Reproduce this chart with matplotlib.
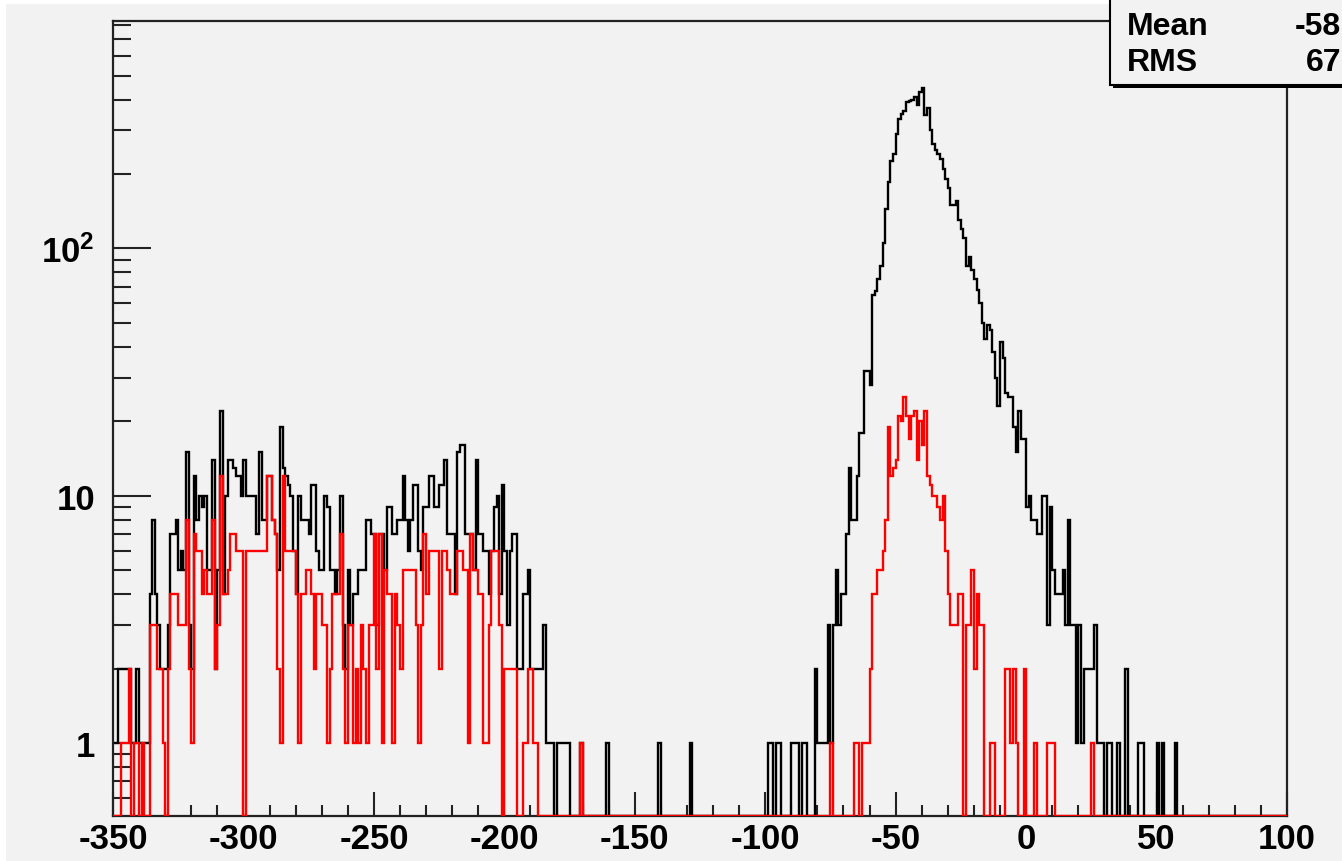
import numpy as np
import matplotlib
matplotlib.use("Agg")
import matplotlib.pyplot as plt
from matplotlib.patches import Rectangle
from matplotlib.transforms import Affine2D
from matplotlib.ticker import FixedLocator, MultipleLocator

plt.rcParams['font.family'] = ['Liberation Sans', 'DejaVu Sans']
plt.rcParams['font.weight'] = 'bold'
plt.rcParams['mathtext.fontset'] = 'custom'
plt.rcParams['mathtext.rm'] = 'Liberation Sans:bold'
plt.rcParams['mathtext.bf'] = 'Liberation Sans:bold'
plt.rcParams['mathtext.it'] = 'Liberation Sans:bold'

# ---- histogram binning: 1-unit bins from -350 to 100 ----
x_min, x_max = -350, 100
bin_edges = np.arange(x_min, x_max + 1, 1)

# all entries (black), one row = 10 bins
black_counts = [
    1, 1, 2, 2, 2, 2, 2, 1, 1, 2,
    1, 1, 1, 1, 4, 8, 4, 3, 2, 2,
    2, 3, 7, 7, 8, 5, 6, 5, 15, 3,
    2, 12, 8, 10, 9, 10, 5, 5, 14, 2,
    5, 22, 4, 10, 14, 14, 13, 12, 12, 10,
    14, 10, 10, 10, 10, 7, 15, 8, 8, 12,
    12, 8, 7, 5, 19, 13, 12, 11, 10, 6,
    4, 10, 8, 8, 8, 7, 11, 11, 6, 5,
    5, 10, 9, 5, 5, 4, 5, 10, 3, 2,
    5, 3, 4, 4, 5, 5, 5, 8, 8, 7,
    7, 3, 7, 7, 5, 9, 9, 7, 7, 8,
    8, 12, 8, 6, 8, 11, 11, 6, 5, 9,
    9, 12, 12, 9, 9, 11, 11, 14, 7, 7,
    7, 4, 15, 16, 16, 7, 7, 7, 5, 14,
    7, 7, 6, 6, 4, 6, 9, 10, 4, 11,
    6, 3, 6, 7, 7, 2, 2, 4, 4, 5,
    2, 2, 2, 2, 2, 3, 1, 1, 1, 0,
    1, 1, 1, 1, 1, 0, 0, 0, 0, 1,
    0, 0, 0, 0, 0, 0, 0, 0, 0, 1,
    0, 0, 0, 0, 0, 0, 0, 0, 0, 0,
    0, 0, 0, 0, 0, 0, 0, 0, 0, 1,
    0, 0, 0, 0, 0, 0, 0, 0, 0, 0,
    0, 1, 0, 0, 0, 0, 0, 0, 0, 0,
    0, 0, 0, 0, 0, 0, 0, 0, 0, 0,
    0, 0, 0, 0, 0, 0, 0, 0, 0, 0,
    0, 1, 1, 0, 1, 1, 0, 0, 0, 0,
    1, 1, 1, 0, 1, 1, 0, 0, 0, 2,
    1, 1, 1, 1, 3, 1, 3, 5, 3, 4,
    4, 7, 13, 8, 8, 12, 18, 18, 32, 32,
    28, 65, 67, 75, 85, 105, 144, 185, 225, 240,
    290, 335, 350, 360, 390, 395, 400, 410, 380, 430,
    445, 345, 370, 300, 265, 250, 240, 230, 210, 190,
    175, 150, 150, 155, 130, 120, 110, 85, 92, 82,
    75, 68, 60, 50, 43, 49, 47, 38, 30, 23,
    42, 36, 26, 25, 25, 19, 15, 22, 17, 17,
    9, 10, 8, 8, 7, 7, 10, 10, 3, 9,
    5, 4, 4, 4, 5, 3, 8, 3, 3, 1,
    3, 1, 2, 2, 2, 2, 3, 1, 1, 1,
    0, 1, 1, 0, 0, 1, 0, 0, 2, 0,
    0, 0, 0, 1, 1, 0, 0, 0, 0, 0,
    1, 0, 1, 0, 0, 0, 0, 1, 0, 0,
    0, 0, 0, 0, 0, 0, 0, 0, 0, 0,
    0, 0, 0, 0, 0, 0, 0, 0, 0, 0,
    0, 0, 0, 0, 0, 0, 0, 0, 0, 0,
    0, 0, 0, 0, 0, 0, 0, 0, 0, 0,
]

# selected entries (red), same binning
red_counts = [
    0, 0, 0, 1, 1, 1, 2, 0, 1, 1,
    0, 1, 0, 0, 3, 3, 3, 2, 2, 1,
    0, 2, 4, 4, 4, 3, 3, 3, 8, 2,
    1, 7, 6, 6, 4, 5, 4, 4, 8, 2,
    3, 12, 4, 4, 5, 7, 7, 6, 6, 6,
    0, 6, 6, 6, 6, 6, 6, 6, 6, 12,
    12, 8, 7, 2, 1, 12, 6, 6, 6, 6,
    4, 1, 4, 4, 5, 5, 4, 2, 4, 4,
    3, 3, 1, 2, 4, 4, 4, 7, 2, 1,
    3, 3, 1, 2, 1, 3, 2, 1, 3, 3,
    7, 2, 7, 1, 5, 4, 4, 1, 4, 3,
    2, 5, 5, 5, 5, 5, 3, 1, 3, 7,
    4, 6, 6, 6, 6, 2, 6, 6, 5, 4,
    4, 4, 6, 6, 5, 5, 1, 7, 5, 5,
    4, 4, 1, 1, 3, 6, 6, 6, 3, 0,
    2, 2, 2, 2, 2, 0, 0, 1, 1, 2,
    2, 1, 1, 0, 0, 0, 0, 0, 0, 0,
    0, 0, 0, 0, 0, 0, 0, 0, 0, 1,
    0, 0, 0, 0, 0, 0, 0, 0, 0, 0,
    0, 0, 0, 0, 0, 0, 0, 0, 0, 0,
    0, 0, 0, 0, 0, 0, 0, 0, 0, 0,
    0, 0, 0, 0, 0, 0, 0, 0, 0, 0,
    0, 0, 0, 0, 0, 0, 0, 0, 0, 0,
    0, 0, 0, 0, 0, 0, 0, 0, 0, 0,
    0, 0, 0, 0, 0, 0, 0, 0, 0, 0,
    0, 0, 0, 0, 0, 0, 0, 0, 0, 0,
    0, 0, 0, 0, 0, 0, 0, 0, 0, 0,
    0, 0, 0, 0, 0, 1, 0, 0, 0, 0,
    0, 0, 0, 0, 1, 1, 0, 1, 1, 1,
    2, 4, 4, 5, 5, 6, 8, 19, 12, 13,
    14, 21, 20, 25, 21, 17, 21, 22, 14, 20,
    16, 22, 12, 11, 10, 10, 9, 8, 10, 6,
    4, 3, 3, 3, 4, 4, 0, 3, 3, 5,
    2, 4, 3, 3, 0, 0, 1, 1, 0, 0,
    0, 0, 2, 2, 1, 2, 1, 0, 0, 2,
    0, 0, 0, 1, 0, 0, 0, 0, 1, 1,
    1, 0, 0, 0, 0, 0, 0, 0, 0, 0,
    0, 0, 0, 0, 0, 1, 0, 0, 0, 0,
    0, 0, 0, 0, 0, 0, 0, 0, 0, 0,
    0, 0, 0, 0, 0, 0, 0, 0, 0, 0,
    0, 0, 0, 0, 0, 0, 0, 0, 0, 0,
    0, 0, 0, 0, 0, 0, 0, 0, 0, 0,
    0, 0, 0, 0, 0, 0, 0, 0, 0, 0,
    0, 0, 0, 0, 0, 0, 0, 0, 0, 0,
    0, 0, 0, 0, 0, 0, 0, 0, 0, 0,
]

x_ticks = [-350, -300, -250, -200, -150, -100, -50, 0, 50, 100]
x_tick_labels = [str(t) for t in x_ticks]
y_ticks = [1, 10, 100]
y_tick_labels = ['1', '10', r'$\mathbf{10^{2}}$']
stats_names = ['Mean', 'RMS']
stats_values = ['-58', '67']

# ---- figure ----
W, H = 1342, 862
fig = plt.figure(figsize=(W / 100, H / 100), dpi=100, facecolor='white')
pix = Affine2D().scale(1.0 / W, 1.0 / H) + fig.transFigure

# grey canvas with thin white border
fig.add_artist(Rectangle((6, 0), W, H - 5, transform=pix,
                         facecolor='#f2f2f2', edgecolor='none', zorder=-5))

ax = fig.add_axes([113 / W, 1 - 817 / H, (1287 - 113) / W, (817 - 22) / H])
ax.set_facecolor('#f2f2f2')
ax.set_yscale('log')
ax.set_xlim(x_min, x_max)
ax.set_ylim(0.507, 831)

floor = ax.get_ylim()[0]


def drawn(counts):
    c = np.asarray(counts, dtype=float)
    return np.where(c > 0, c, floor)


ax.stairs(drawn(black_counts), bin_edges, color='black', lw=1.7,
          baseline=None, zorder=2)
ax.stairs(drawn(red_counts), bin_edges, color='#ff0000', lw=1.7,
          baseline=None, zorder=3)

# ticks
ax.xaxis.set_major_locator(FixedLocator(x_ticks))
ax.set_xticklabels(x_tick_labels)
ax.xaxis.set_minor_locator(MultipleLocator(10))
ax.yaxis.set_major_locator(FixedLocator(y_ticks))
ax.set_yticklabels(y_tick_labels)
minor_y = [m * d for d in (0.1, 1, 10, 100) for m in range(2, 10)]
ax.yaxis.set_minor_locator(FixedLocator(minor_y))
ax.yaxis.set_minor_formatter(plt.NullFormatter())

ax.tick_params(which='both', direction='in', top=False, right=False,
               color='#222222', width=1.5)
ax.tick_params(axis='x', which='major', length=17, pad=4, labelsize=25)
ax.tick_params(axis='x', which='minor', length=8)
ax.tick_params(axis='y', which='major', length=27, pad=13, labelsize=25)
ax.tick_params(axis='y', which='minor', length=13)
for lab in ax.get_xticklabels() + ax.get_yticklabels():
    lab.set_fontweight('bold')

for s in ax.spines.values():
    s.set_linewidth(1.6)
    s.set_color('#222222')

# statistics box in the top-right corner
fig.add_artist(Rectangle((1113, H - 89), 400, 200, transform=pix,
                         facecolor='black', edgecolor='none', zorder=5))
fig.add_artist(Rectangle((1110, H - 86), 400, 200, transform=pix,
                         facecolor='#f2f2f2', edgecolor='black', lw=1.5,
                         zorder=6))
for i, (name, val) in enumerate(zip(stats_names, stats_values)):
    yc = H - 27 - 36 * i
    fig.text(1127, yc, name, transform=pix, ha='left', va='center',
             fontsize=23, fontweight='bold', zorder=7)
    fig.text(1341, yc, val, transform=pix, ha='right', va='center',
             fontsize=23, fontweight='bold', zorder=7)

fig.savefig('out.png', dpi=100, facecolor=fig.get_facecolor())
